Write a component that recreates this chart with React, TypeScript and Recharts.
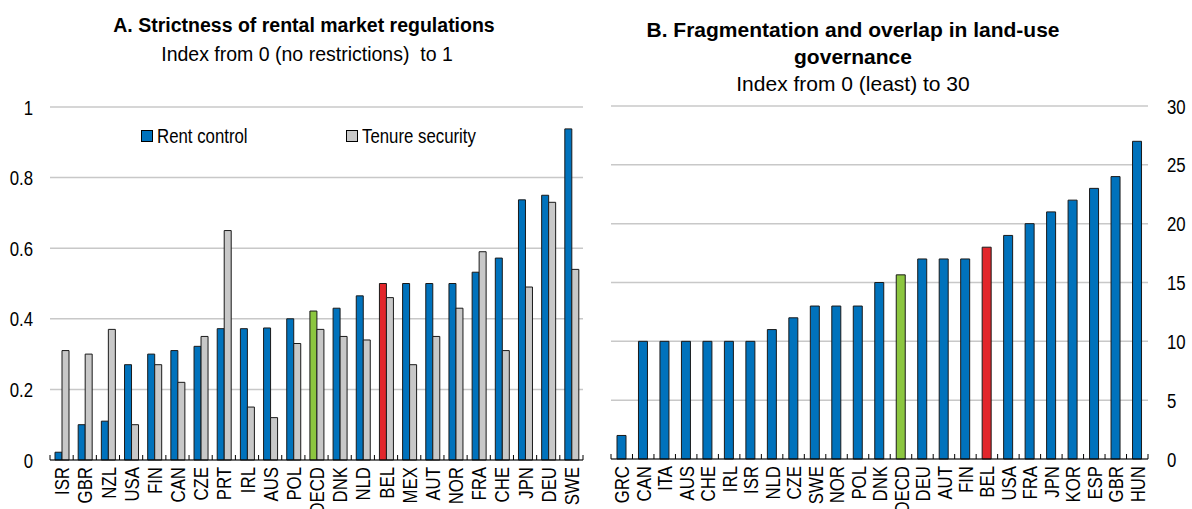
import React from "react";
import { BarChart, Bar, XAxis, YAxis, CartesianGrid, Cell, Legend } from "recharts";

// Panel A: strictness of rental market regulations
const rentCountries = [
  "ISR", "GBR", "NZL", "USA", "FIN", "CAN", "CZE", "PRT", "IRL", "AUS", "POL", "OECD",
  "DNK", "NLD", "BEL", "MEX", "AUT", "NOR", "FRA", "CHE", "JPN", "DEU", "SWE",
];
const rentControl = [
  0.022, 0.1, 0.11, 0.27, 0.3, 0.31, 0.322, 0.372, 0.372, 0.374, 0.4, 0.422,
  0.43, 0.465, 0.5, 0.5, 0.5, 0.5, 0.532, 0.572, 0.737, 0.75, 0.938,
];
const tenureSecurity = [
  0.31, 0.3, 0.37, 0.1, 0.27, 0.22, 0.35, 0.65, 0.15, 0.12, 0.33, 0.37,
  0.35, 0.34, 0.46, 0.27, 0.35, 0.43, 0.59, 0.31, 0.49, 0.73, 0.54,
];
const ticksA = [0, 0.2, 0.4, 0.6, 0.8, 1];

// Panel B: fragmentation and overlap in land-use governance
const landCountries = [
  "GRC", "CAN", "ITA", "AUS", "CHE", "IRL", "ISR", "NLD", "CZE", "SWE", "NOR", "POL", "DNK",
  "OECD", "DEU", "AUT", "FIN", "BEL", "USA", "FRA", "JPN", "KOR", "ESP", "GBR", "HUN",
];
const landIndex = [
  2, 10, 10, 10, 10, 10, 10, 11, 12, 13, 13, 13, 15,
  15.65, 17, 17, 17, 18, 19, 20, 21, 22, 23, 24, 27,
];
const ticksB = [0, 5, 10, 15, 20, 25, 30];

const BLUE = "#0072BC";
const GREY = "#C8C8C8";
const GREEN = "#8CC63F";
const RED = "#E2262B";
const FONT = "'Liberation Sans', Arial, sans-serif";
const NARROW = 0.8; // reference uses a condensed face for axis text

const dataA = rentCountries.map((c, i) => ({
  name: c,
  rent: rentControl[i],
  tenure: tenureSecurity[i],
}));
const dataB = landCountries.map((c, i) => ({ name: c, value: landIndex[i] }));

const barColor = (name: string) => (name === "OECD" ? GREEN : name === "BEL" ? RED : BLUE);

// x tick: rotated label + small marks between categories
function makeTick(axisY: number, step: number, count: number) {
  return (props: any) => {
    const { x, payload, index } = props;
    const left = x - step / 2;
    return (
      <g>
        <line x1={left} x2={left} y1={axisY} y2={axisY - 5} stroke="#000" strokeWidth={1} />
        {index === count - 1 && (
          <line x1={left + step} x2={left + step} y1={axisY} y2={axisY - 5} stroke="#000" strokeWidth={1} />
        )}
        <text
          transform={`translate(${x},${axisY + 7}) rotate(-90) scale(${NARROW},1)`}
          textAnchor="end"
          dy="0.36em"
          fontSize={21}
          fontFamily={FONT}
          fill="#000"
        >
          {payload.value}
        </text>
      </g>
    );
  };
}

function makeYTick(anchor: "start" | "end") {
  return (props: any) => {
    const { x, y, payload } = props;
    return (
      <text
        transform={`translate(${x},${y}) scale(${NARROW},1)`}
        textAnchor={anchor}
        dy="0.36em"
        fontSize={21}
        fontFamily={FONT}
        fill="#000"
      >
        {payload.value}
      </text>
    );
  };
}

function LegendA() {
  const item = (label: string, color: string, left: number) => (
    <div style={{ position: "absolute", left, top: 0, display: "flex", alignItems: "center", height: 24 }}>
      <span
        style={{
          width: 10,
          height: 10,
          background: color,
          border: "1px solid #000",
          marginRight: 4,
        }}
      />
      <span
        style={{
          fontSize: 21,
          fontFamily: FONT,
          lineHeight: "24px",
          whiteSpace: "nowrap",
          display: "inline-block",
          transform: `scaleX(${NARROW})`,
          transformOrigin: "left center",
        }}
      >
        {label}
      </span>
    </div>
  );
  return (
    <div style={{ position: "relative", height: 24 }}>
      {item("Rent control", BLUE, 0)}
      {item("Tenure security", GREY, 205)}
    </div>
  );
}

const titleStyle: React.CSSProperties = {
  position: "absolute",
  textAlign: "center",
  fontFamily: FONT,
  color: "#000",
  whiteSpace: "nowrap",
};

export default function App() {
  const stepA = 533 / rentCountries.length;
  const stepB = 537 / landCountries.length;
  return (
    <div style={{ position: "absolute", left: 0, top: 0, width: 1192, height: 509, background: "#fff" }}>
      <div style={{ ...titleStyle, left: 4, width: 600, top: 13, fontSize: 19.5, fontWeight: 700, lineHeight: "24px" }}>
        A. Strictness of rental market regulations
      </div>
      <div style={{ ...titleStyle, left: 7, width: 600, top: 42, fontSize: 19.5, lineHeight: "24px" }}>
        Index from 0 (no restrictions)&nbsp; to 1
      </div>
      <div style={{ ...titleStyle, left: 553, width: 600, top: 17, fontSize: 21, fontWeight: 700, lineHeight: "26.5px" }}>
        B. Fragmentation and overlap in land-use
        <br />
        governance
      </div>
      <div style={{ ...titleStyle, left: 553, width: 600, top: 72, fontSize: 21, lineHeight: "24px" }}>
        Index from 0 (least) to 30
      </div>

      <div style={{ position: "absolute", left: 0, top: 0 }}>
        <BarChart
          width={590}
          height={509}
          data={dataA}
          margin={{ top: 107, right: 7, bottom: 0, left: 10 }}
          barGap={0}
          barSize={7}
        >
          <CartesianGrid vertical={false} stroke={GREY} strokeWidth={1.5} />
          <XAxis
            dataKey="name"
            interval={0}
            height={49}
            tickLine={false}
            axisLine={{ stroke: "#000", strokeWidth: 1 }}
            tick={makeTick(460, stepA, rentCountries.length)}
          />
          <YAxis
            domain={[0, 1]}
            ticks={ticksA}
            width={40}
            axisLine={false}
            tickLine={false}
            tickSize={0}
            tickMargin={17}
            tick={makeYTick("end")}
          />
          <Legend
            layout="horizontal"
            verticalAlign="middle"
            align="center"
            content={() => <LegendA />}
            wrapperStyle={{ position: "absolute", top: 124, left: 141, width: 420, height: 24 }}
          />
          <Bar dataKey="rent" name="Rent control" stroke="#1a1a1a" strokeWidth={1} isAnimationActive={false}>
            {dataA.map((d) => (
              <Cell key={d.name} fill={barColor(d.name)} />
            ))}
          </Bar>
          <Bar dataKey="tenure" name="Tenure security" fill={GREY} stroke="#1a1a1a" strokeWidth={1} isAnimationActive={false} />
        </BarChart>
      </div>

      <div style={{ position: "absolute", left: 590, top: 0 }}>
        <BarChart
          width={602}
          height={509}
          data={dataB}
          margin={{ top: 106, right: 0, bottom: 0, left: 21 }}
          barSize={9}
        >
          <CartesianGrid vertical={false} stroke={GREY} strokeWidth={1.5} />
          <XAxis
            dataKey="name"
            interval={0}
            height={50}
            tickLine={false}
            axisLine={{ stroke: "#000", strokeWidth: 1 }}
            tick={makeTick(459, stepB, landCountries.length)}
          />
          <YAxis
            orientation="right"
            domain={[0, 30]}
            ticks={ticksB}
            width={44}
            axisLine={false}
            tickLine={false}
            tickSize={0}
            tickMargin={19}
            tick={makeYTick("start")}
          />
          <Bar dataKey="value" stroke="#1a1a1a" strokeWidth={1} isAnimationActive={false}>
            {dataB.map((d) => (
              <Cell key={d.name} fill={barColor(d.name)} />
            ))}
          </Bar>
        </BarChart>
      </div>
    </div>
  );
}
